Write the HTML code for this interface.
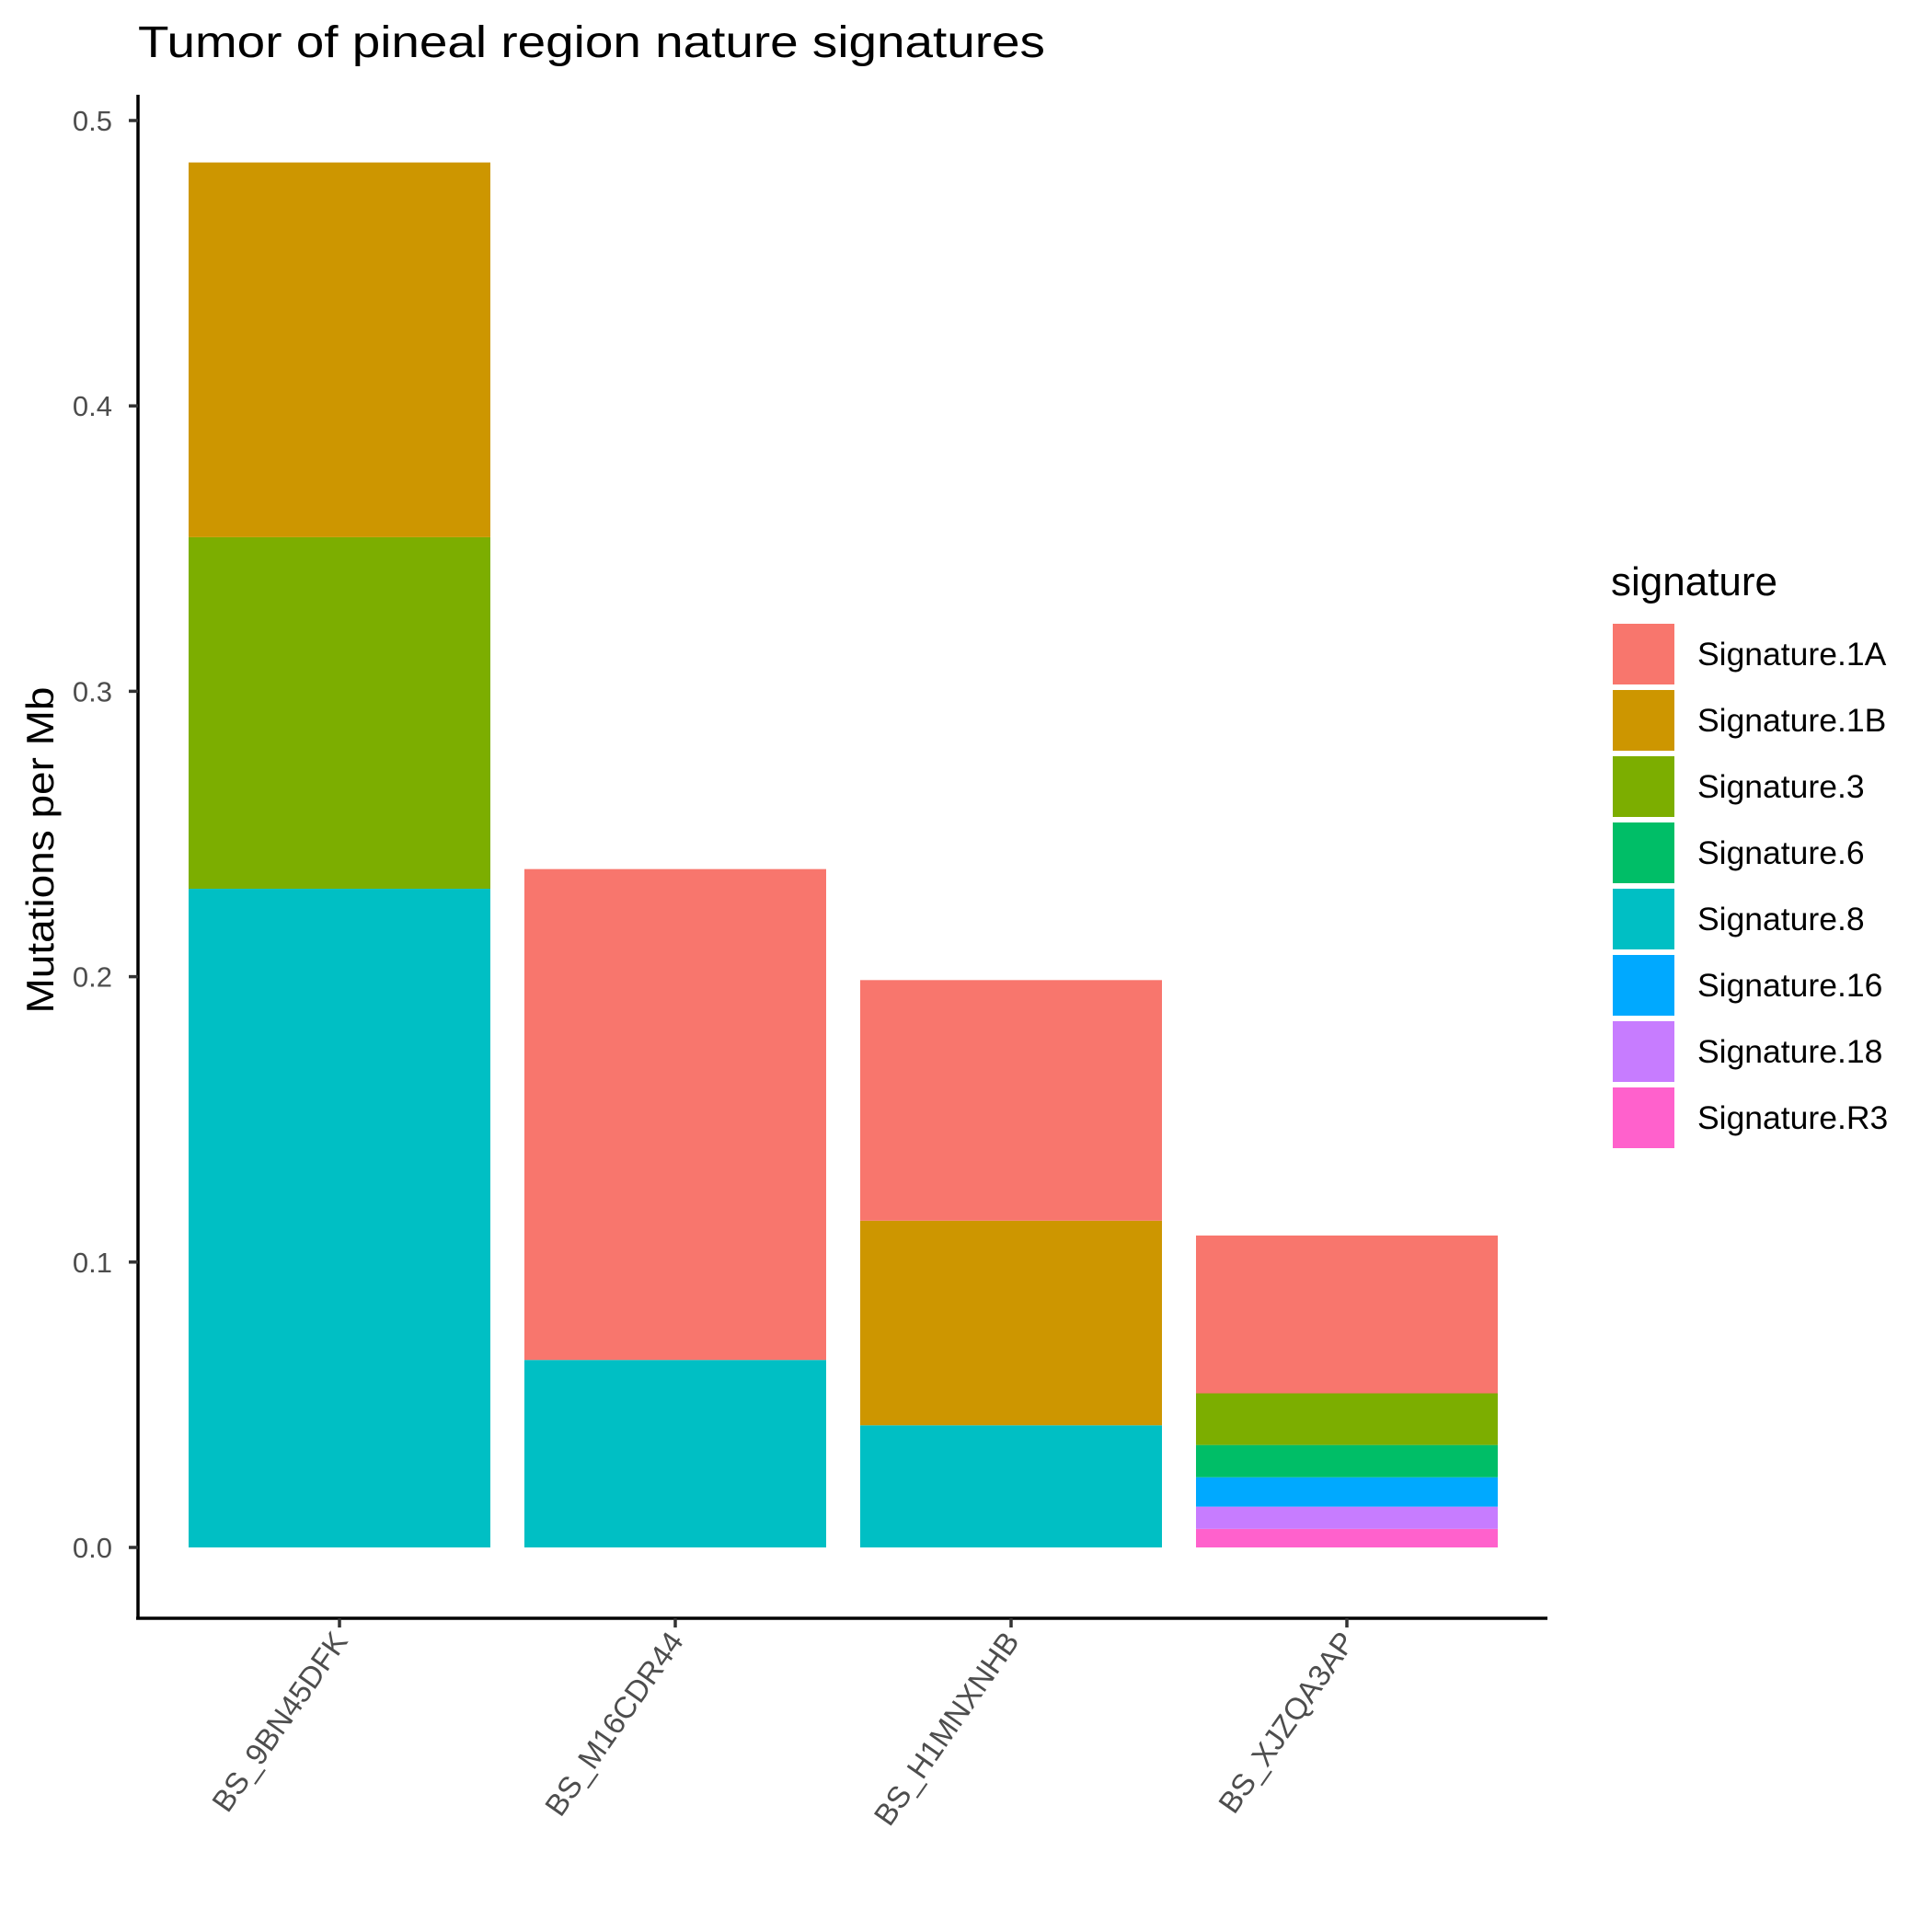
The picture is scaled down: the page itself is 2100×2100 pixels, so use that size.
<!DOCTYPE html>
<html><head><meta charset="utf-8"><style>
html,body{margin:0;padding:0;background:#fff;}
svg{display:block;font-family:"Liberation Sans",Arial,sans-serif;}
</style></head><body>
<svg id="chart" width="2100" height="2100" viewBox="0 0 2100 2100" xmlns="http://www.w3.org/2000/svg">
<rect width="2100" height="2100" fill="#fff"/>
<text x="150" y="62" font-size="48" fill="#000" textLength="986" lengthAdjust="spacingAndGlyphs">Tumor of pineal region nature signatures</text>
<g id="bars"></g>
<g id="yaxis"></g>
<g id="xaxis"></g>
<text transform="translate(58,924) rotate(-90)" text-anchor="middle" font-size="42" fill="#000" textLength="355" lengthAdjust="spacingAndGlyphs">Mutations per Mb</text>
<g id="legend">
<text x="1751" y="647" font-size="44" fill="#000">signature</text>
</g>
</svg>
<script>
const samples = ["BS_9BN45DFK","BS_M16CDR44","BS_H1MNXNHB","BS_XJZQA3AP"];
const signatures = ["Signature.1A","Signature.1B","Signature.3","Signature.6","Signature.8","Signature.16","Signature.18","Signature.R3"];
const colors = ["#F8766D","#CD9600","#7CAE00","#00BE67","#00BFC4","#00A9FF","#C77CFF","#FF61CC"];
const sig1A = [0, 0.172, 0.0843, 0.0553];
const sig1B = [0.1313, 0, 0.0717, 0];
const sig3 = [0.1232, 0, 0, 0.0181];
const sig6 = [0, 0, 0, 0.0113];
const sig8 = [0.2308, 0.0657, 0.0428, 0];
const sig16 = [0, 0, 0, 0.0103];
const sig18 = [0, 0, 0, 0.0078];
const sigR3 = [0, 0, 0, 0.0065];
const yTicks = [0, 0.1, 0.2, 0.3, 0.4, 0.5];
const yTickLabels = ["0.0","0.1","0.2","0.3","0.4","0.5"];

const series = [sig1A, sig1B, sig3, sig6, sig8, sig16, sig18, sigR3];
const NS = "http://www.w3.org/2000/svg";
const y0px = 1682, unit = 3102;
const yScale = v => y0px - v * unit;
const step = 365, bw = 328, x0 = 369;
const xScale = i => x0 + i * step;
function mk(tag, attrs, parent){const e=document.createElementNS(NS,tag);for(const k in attrs)e.setAttribute(k,attrs[k]);parent.appendChild(e);return e;}

const gb = document.getElementById('bars');
samples.forEach((s, i) => {
  let cum = 0;
  for (let k = series.length - 1; k >= 0; k--) {
    const v = series[k][i];
    if (v <= 0) continue;
    const r = mk('rect', {x: xScale(i) - bw/2, y: yScale(cum + v), width: bw, height: yScale(cum) - yScale(cum + v), fill: colors[k]}, gb);
    
    
    cum += v;
  }
});

const gy = document.getElementById('yaxis');
const yl = mk('line', {x1:150, y1:103, x2:150, y2:1760, stroke:'#000', 'stroke-width':3.5}, gy);


yTicks.forEach((t, j) => {
  const y = yScale(t);
  const tl = mk('line', {x1:140, y1:y, x2:150, y2:y, stroke:'#333', 'stroke-width':3.5}, gy);
  
  
  const tx = mk('text', {x:122, y:y + 11, 'text-anchor':'end', 'font-size':31, fill:'#4d4d4d'}, gy);
  tx.textContent = yTickLabels[j];
  
  
});

const gx = document.getElementById('xaxis');
const xl = mk('line', {x1:148, y1:1759, x2:1682, y2:1759, stroke:'#000', 'stroke-width':3.5}, gx);


samples.forEach((s, i) => {
  const x = xScale(i);
  const tl = mk('line', {x1:x, y1:1759, x2:x, y2:1769, stroke:'#333', 'stroke-width':3.5}, gx);
  
  
  const tx = mk('text', {transform:'translate(' + (x + 10) + ',1784) rotate(-55)', 'text-anchor':'end', 'font-size':33, fill:'#4d4d4d'}, gx);
  tx.textContent = s;
  
  
});

const gl = document.getElementById('legend');
signatures.forEach((s, k) => {
  const y = 678 + k * 72;
  const r = mk('rect', {x:1753, y:y, width:67, height:66, fill:colors[k]}, gl);
  
  
  const t = mk('text', {x:1845, y:y + 45, 'font-size':35.5, fill:'#000'}, gl);
  t.textContent = s;
  
  
});
</script>
</body></html>
